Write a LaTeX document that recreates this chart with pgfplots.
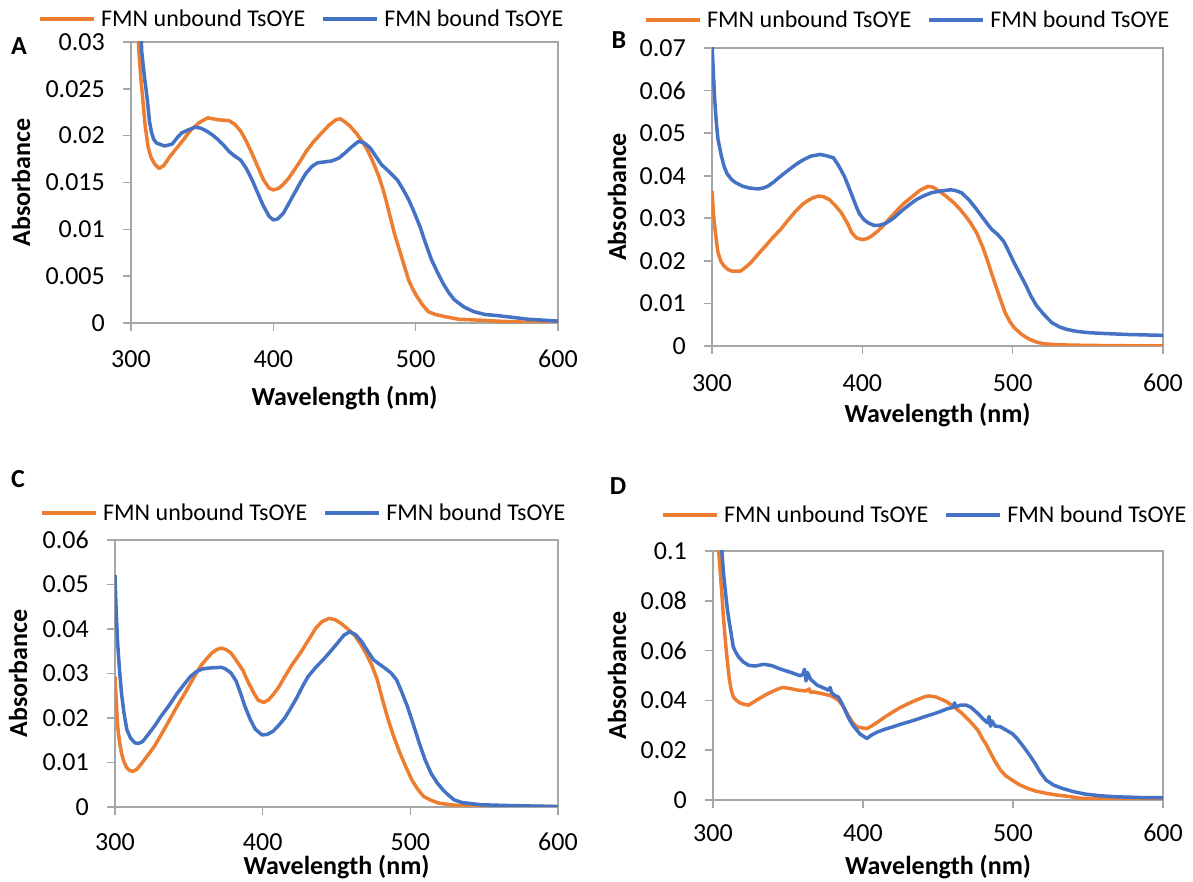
\documentclass[border=0pt]{standalone}
\usepackage{fontspec}
\setmainfont{Carlito}
\usepackage{pgfplots}
\pgfplotsset{compat=1.18}
\definecolor{cOr}{HTML}{ED7D31}
\definecolor{cBl}{HTML}{4472C4}
\definecolor{cAx}{HTML}{A6A6A6}
\pgfplotsset{
 panel/.style={
  scale only axis, anchor=south west,
  xmin=300,xmax=600, xtick={300,400,500,600}, ymin=0,
  axis line style={draw=cAx, line width=1.6pt},
  every tick/.style={draw=cAx, line width=1.6pt},
  major tick length=8pt, tick align=outside,
  xtick pos=left, ytick pos=left,
  ticklabel style={font=\fontsize{26}{30}\selectfont, text=black, inner sep=0pt},
  xticklabel style={yshift=-19pt},
  yticklabel style={xshift=-18pt},
  /pgf/number format/assume math mode=true,
  /pgf/number format/fixed, /pgf/number format/precision=3,
  scaled y ticks=false, scaled x ticks=false,
  label style={font=\bfseries\fontsize{26}{30}\selectfont, anchor=center, inner sep=0pt},
  xlabel={Wavelength (nm)}, ylabel={Absorbance},
  legend columns=2,
  legend style={draw=none, fill=none, inner sep=0pt, anchor=west,
    font=\fontsize{24}{28}\selectfont, nodes={inner sep=0pt},
    /tikz/every odd column/.append style={column sep=5pt},
    /tikz/every even column/.append style={column sep=16pt}},
  legend image code/.code={\draw[#1, line width=4pt] (0pt,0pt) -- (54pt,0pt);},
  every axis plot/.append style={line width=3.5pt, line join=round, no marks},
 }
}
\begin{document}
\begin{tikzpicture}
\useasboundingbox (0,0) rectangle (1193pt,882pt);
% ---------------- A
\begin{axis}[panel, at={(131pt,559pt)}, width=427pt, height=281pt,
  ymax=0.03, ytick={0,0.005,...,0.0301},
  xlabel style={at={(axis description cs:0.5,-0.2669)}},
  ylabel style={at={(axis description cs:-0.2576,0.5)}},
  legend style={at={(-0.2178,1.0819)}}]
\addplot[cOr] coordinates {(304,0.034) (305.5,0.029) (307,0.026) (308.5,0.0235) (310,0.021) (312,0.0188) (314,0.0177) (316.5,0.017) (319.6,0.0165) (323,0.0168) (327,0.0177) (331.7,0.0186) (337,0.0196) (342,0.0206) (348,0.0214) (354,0.0219) (361,0.0217) (369,0.0216) (373,0.0212) (377,0.0205) (381,0.0194) (385,0.0181) (389,0.0167) (393,0.0153) (397,0.0144) (400,0.0142) (404,0.0144) (407,0.0148) (411,0.0155) (415,0.0164) (419,0.0173) (423,0.0183) (428,0.0193) (434,0.0203) (439,0.0211) (444,0.0217) (447,0.0218) (450,0.0215) (454,0.021) (458,0.0203) (462,0.0195) (466,0.0185) (470,0.0172) (474,0.0157) (477,0.0143) (479,0.0132) (482,0.0114) (485,0.0096) (488,0.0081) (490,0.0071) (493,0.0056) (495,0.0046) (498,0.0036) (501,0.0028) (505,0.0019) (509,0.0012) (514,0.0009) (520,0.0007) (530,0.0004) (545,0.0003) (557,0.0002) (575,0.0001) (600,0.0001)};
\addlegendentry{FMN unbound TsOYE}
\addplot[cBl] coordinates {(306,0.036) (307.5,0.029) (309.5,0.0262) (311.5,0.0238) (313,0.0215) (314.5,0.0203) (316,0.0196) (318,0.0192) (323.6,0.0189) (329,0.0191) (332,0.0197) (335.7,0.0203) (340,0.0206) (345,0.0209) (349,0.0208) (353,0.0205) (357,0.0201) (361,0.0196) (365,0.019) (369,0.0183) (373,0.0178) (377,0.0174) (381,0.0165) (385,0.0153) (389,0.0139) (393,0.0125) (397,0.0114) (400,0.011) (403,0.0111) (407,0.0117) (411,0.0128) (415,0.0139) (419,0.0150) (423,0.016) (427,0.0167) (431,0.0171) (436,0.0172) (441,0.0173) (446,0.0176) (450,0.0181) (455,0.0188) (460,0.0194) (464,0.0192) (468,0.0187) (472,0.0178) (476,0.0169) (481,0.0162) (487,0.0153) (491,0.0143) (495,0.0132) (499,0.0118) (503,0.0103) (507,0.0085) (511,0.0068) (515,0.0055) (519,0.0043) (523,0.0033) (527,0.0025) (534,0.0017) (541,0.0012) (549,0.0009) (557,0.0008) (568,0.0006) (579,0.0004) (590,0.0003) (600,0.0002)};
\addlegendentry{FMN bound TsOYE}
\end{axis}
% ---------------- B
\begin{axis}[panel, at={(712pt,536pt)}, width=451pt, height=298pt,
  ymax=0.07, ytick={0,0.01,...,0.0701},
  xticklabel style={yshift=-1pt},
  xlabel style={at={(axis description cs:0.5,-0.2315)}},
  ylabel style={at={(axis description cs:-0.2106,0.5)}},
  legend style={at={(-0.1508,1.094)}}]
\addplot[cOr] coordinates {(300,0.0364) (301,0.031) (301.8,0.0281) (303,0.0245) (304,0.0219) (306,0.0198) (308,0.0188) (310.5,0.018) (313,0.0176) (319,0.0176) (322,0.0184) (325.6,0.0195) (330,0.0213) (335.6,0.0235) (340,0.0253) (345.7,0.0274) (350,0.0293) (355.7,0.0317) (360,0.0332) (363,0.034) (367,0.0348) (370.8,0.0352) (374,0.0351) (378,0.0344) (382,0.033) (386,0.0313) (390,0.0289) (393,0.0266) (396,0.0254) (399.7,0.025) (403,0.0252) (406,0.0258) (410,0.0269) (413.5,0.0281) (418,0.0299) (423.5,0.032) (428,0.0336) (433.6,0.0352) (438,0.0365) (443.6,0.0375) (447,0.0373) (451,0.0364) (456,0.0351) (461,0.0336) (465,0.0321) (468.7,0.0305) (472,0.0289) (476,0.0266) (480,0.0233) (483.8,0.0195) (486,0.0170) (488.8,0.0141) (492,0.0108) (495,0.0078) (498,0.0058) (501,0.0043) (506,0.0027) (511,0.0016) (516,0.0009) (521,0.0005) (530,0.0003) (539,0.0002) (560,0.0001) (600,0.0)};
\addlegendentry{FMN unbound TsOYE}
\addplot[cBl] coordinates {(300,0.071) (300.8,0.065) (301.8,0.0579) (303,0.052) (304,0.0485) (306,0.045) (308,0.0422) (310,0.0405) (313,0.0391) (316,0.0383) (320.6,0.0375) (325,0.0371) (330.6,0.0369) (334,0.0371) (337,0.0375) (341,0.0385) (345.7,0.0399) (350,0.0411) (355.7,0.0426) (360,0.0436) (365.8,0.0446) (372,0.045) (376,0.0447) (380.8,0.0442) (384,0.0425) (388,0.0399) (392,0.0364) (395.9,0.0328) (398,0.0311) (401,0.0297) (404,0.0289) (408,0.0283) (412,0.0284) (416,0.0289) (421,0.0301) (426,0.0317) (431,0.0331) (436,0.0344) (441,0.0353) (446,0.036) (452,0.0364) (458.7,0.0367) (462,0.0365) (466,0.036) (471,0.0343) (476,0.0321) (481,0.0297) (486,0.0274) (490,0.0262) (494,0.0246) (497,0.0225) (501,0.0195) (505,0.0168) (509,0.0141) (512,0.0118) (516,0.0094) (521,0.0073) (526,0.0055) (531,0.0045) (536,0.0039) (543,0.0034) (551.5,0.0031) (563,0.0029) (576.6,0.0027) (588,0.0026) (600,0.0025)};
\addlegendentry{FMN bound TsOYE}
\end{axis}
% ---------------- C
\begin{axis}[panel, at={(115pt,75pt)}, width=443pt, height=267pt,
  ymax=0.06, ytick={0,0.01,...,0.0601},
  xticklabel style={yshift=1pt},
  xlabel style={at={(axis description cs:0.5,-0.2247)}},
  ylabel style={at={(axis description cs:-0.219,0.5)}},
  legend style={at={(-0.1693,1.101)}}]
\addplot[cOr] coordinates {(300,0.0293) (300.8,0.024) (301.8,0.0181) (303,0.0148) (304.4,0.0121) (306,0.0102) (308,0.0088) (310,0.0082) (312,0.008) (314.5,0.0084) (317.4,0.0095) (321,0.0111) (326.6,0.0136) (331,0.0161) (337,0.0196) (342,0.0226) (347.4,0.0256) (352,0.0283) (357.8,0.0316) (362,0.0333) (365.6,0.0346) (369,0.0354) (372,0.0357) (375,0.0354) (378.6,0.0346) (382,0.033) (386.5,0.0308) (390,0.0282) (394,0.0256) (397,0.024) (400.8,0.0235) (404,0.0241) (407,0.0252) (411,0.027) (415,0.0293) (420,0.032) (425.5,0.0346) (431,0.0375) (436,0.0402) (440,0.0416) (445,0.0424) (449,0.0421) (452.9,0.0413) (457,0.0402) (462,0.0387) (466,0.0368) (469.8,0.0346) (474,0.0318) (477.6,0.0286) (481,0.0243) (485,0.0196) (489,0.0156) (493,0.0121) (497,0.009) (501,0.0061) (505,0.004) (508.9,0.0024) (514,0.0015) (519,0.0009) (527,0.0005) (535,0.0003) (560,0.0002) (600,0.0001)};
\addlegendentry{FMN unbound TsOYE}
\addplot[cBl] coordinates {(300,0.0521) (300.8,0.044) (301.8,0.0368) (303,0.031) (304.4,0.0256) (306,0.0213) (308,0.0174) (310.5,0.0155) (313.5,0.0144) (316,0.0143) (318.7,0.0147) (322,0.0161) (326.6,0.0181) (331,0.0203) (337,0.023) (342,0.0255) (347.4,0.0278) (351,0.0293) (355,0.0304) (359,0.031) (363,0.0312) (367,0.0313) (372,0.0314) (375,0.031) (378.6,0.0301) (382,0.0283) (385,0.0256) (388,0.0226) (391.7,0.0196) (395,0.0175) (399.5,0.0162) (403,0.0163) (407,0.017) (411,0.0184) (415,0.02) (419,0.0222) (423,0.0245) (427,0.0271) (430.7,0.0293) (436,0.0314) (441,0.0331) (446,0.035) (451.6,0.0372) (455,0.0386) (459,0.0394) (463,0.0387) (467,0.0372) (471,0.0351) (475,0.0331) (479,0.0321) (482.8,0.0312) (487,0.0301) (490.6,0.0286) (494,0.026) (498,0.0226) (502,0.0186) (506,0.0144) (510,0.0106) (514,0.0076) (518,0.0055) (522,0.0039) (526,0.0026) (529.7,0.0016) (535,0.001) (548,0.0005) (570,0.0003) (600,0.0001)};
\addlegendentry{FMN bound TsOYE}
\end{axis}
% ---------------- D
\begin{axis}[panel, at={(713pt,82pt)}, width=450pt, height=249pt,
  ymax=0.1, ytick={0,0.02,...,0.1001},
  xticklabel style={yshift=3pt},
  xlabel style={at={(axis description cs:0.5,-0.269)}},
  ylabel style={at={(axis description cs:-0.2133,0.5)}},
  legend style={at={(-0.1156,1.1446)}}]
\addplot[cOr] coordinates {(303,0.11) (303.8,0.1) (305,0.09) (305.9,0.0829) (307,0.073) (308.4,0.0628) (309.7,0.055) (311,0.0481) (312.2,0.044) (313.5,0.0414) (316,0.0398) (318.6,0.0388) (321,0.0384) (323.7,0.0381) (327,0.0393) (331,0.0408) (335,0.0422) (339,0.0434) (343,0.0445) (346.6,0.0452) (351,0.0448) (356.8,0.0441) (362,0.0438) (364,0.0446) (365,0.0432) (367,0.0434) (372,0.0428) (377,0.0421) (379,0.0418) (383.5,0.0401) (387,0.0375) (390,0.0341) (393,0.0312) (396,0.0294) (399,0.029) (402.6,0.0287) (406,0.0298) (410,0.0314) (415,0.0335) (420,0.0354) (425,0.0372) (430.6,0.0388) (435,0.04) (440.8,0.0414) (444,0.0418) (448.5,0.0414) (452,0.0405) (456,0.0394) (461,0.0372) (466,0.0348) (471,0.0318) (476.5,0.0281) (480,0.0242) (482,0.0225) (484,0.0201) (488,0.0155) (491.7,0.012) (495,0.0098) (499.4,0.008) (504,0.0062) (509.6,0.0047) (515,0.0036) (522,0.0027) (529,0.002) (535,0.0016) (545,0.0007) (560,0.0005) (580,0.0004) (600,0.0003)};
\addlegendentry{FMN unbound TsOYE}
\addplot[cBl] coordinates {(305,0.11) (305.9,0.1) (307,0.091) (308.4,0.0829) (309.7,0.076) (311,0.0709) (312.3,0.066) (313.5,0.0615) (315,0.0595) (317,0.0575) (320,0.0555) (323.7,0.0541) (328,0.0538) (333.9,0.0545) (339,0.054) (344,0.0528) (349,0.0518) (354,0.0508) (358,0.0499) (360,0.0505) (361,0.0525) (362,0.0478) (363,0.0512) (365,0.0485) (369.5,0.0461) (373,0.0452) (377,0.0441) (378,0.0452) (379,0.0432) (381,0.042) (383.5,0.0414) (386,0.0387) (390,0.0334) (393,0.0302) (395,0.0287) (398,0.0265) (402.6,0.0247) (406,0.0262) (410,0.0274) (415,0.0285) (420,0.0294) (425,0.0304) (430.6,0.0314) (435,0.0322) (440.8,0.0334) (446,0.0344) (451,0.0354) (456,0.0366) (460,0.0372) (461,0.039) (462,0.0374) (465,0.0381) (468.8,0.0381) (472,0.0372) (476.5,0.0348) (480,0.0326) (483,0.031) (484,0.0335) (485,0.0296) (486,0.0318) (488,0.0297) (491.7,0.0294) (495,0.0282) (499.4,0.0267) (503,0.0245) (507,0.0214) (511,0.0181) (514.7,0.0147) (518,0.0113) (522,0.008) (527,0.006) (532.6,0.0047) (540,0.0034) (547.8,0.0024) (558,0.0017) (568,0.0013) (585,0.001) (600,0.0009)};
\addlegendentry{FMN bound TsOYE}
\end{axis}
% panel letters
\begin{scope}[every node/.style={font=\bfseries\fontsize{26}{30}\selectfont, inner sep=0pt}]
\node at (19pt,836pt) {A};
\node at (619pt,842pt) {B};
\node at (18pt,403pt) {C};
\node at (618pt,396pt) {D};
\end{scope}
\end{tikzpicture}
\end{document}
